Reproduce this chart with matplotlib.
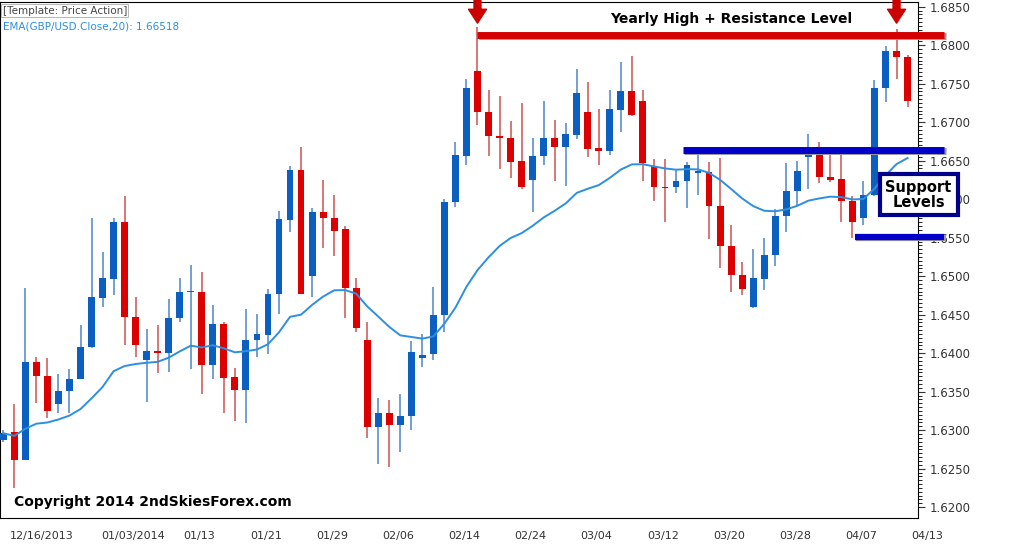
import matplotlib.pyplot as plt
import matplotlib.transforms as mtransforms
import numpy as np

opens = [1.6287, 1.6298, 1.6261, 1.6389, 1.6371, 1.6334, 1.6351, 1.6367, 1.6408, 1.6472,
         1.6496, 1.6571, 1.6447, 1.6391, 1.6403, 1.6400, 1.6446, 1.6479, 1.6480, 1.6385,
         1.6438, 1.6369, 1.6352, 1.6417, 1.6424, 1.6477, 1.6573, 1.6638, 1.6500, 1.6583,
         1.6576, 1.6561, 1.6485, 1.6417, 1.6304, 1.6322, 1.6307, 1.6318, 1.6394, 1.6399,
         1.6449, 1.6596, 1.6656, 1.6767, 1.6713, 1.6682, 1.6679, 1.6650, 1.6625, 1.6656,
         1.6679, 1.6668, 1.6683, 1.6713, 1.6666, 1.6663, 1.6716, 1.6741, 1.6728, 1.6643,
         1.6616, 1.6616, 1.6623, 1.6634, 1.6635, 1.6591, 1.6539, 1.6501, 1.6460, 1.6496,
         1.6527, 1.6578, 1.6610, 1.6655, 1.6661, 1.6629, 1.6626, 1.6597, 1.6575, 1.6605,
         1.6744, 1.6793, 1.6785]
closes = [1.6296, 1.6261, 1.6389, 1.6371, 1.6325, 1.6351, 1.6367, 1.6408, 1.6473, 1.6497,
          1.6571, 1.6447, 1.6411, 1.6403, 1.6400, 1.6446, 1.6479, 1.6481, 1.6385, 1.6438,
          1.6368, 1.6352, 1.6417, 1.6425, 1.6477, 1.6574, 1.6638, 1.6477, 1.6583, 1.6576,
          1.6559, 1.6485, 1.6433, 1.6304, 1.6322, 1.6307, 1.6318, 1.6402, 1.6398, 1.6449,
          1.6596, 1.6657, 1.6744, 1.6713, 1.6682, 1.6679, 1.6648, 1.6616, 1.6656, 1.6679,
          1.6668, 1.6685, 1.6738, 1.6665, 1.6663, 1.6717, 1.6741, 1.6709, 1.6647, 1.6616,
          1.6615, 1.6623, 1.6645, 1.6636, 1.6591, 1.6539, 1.6501, 1.6484, 1.6497, 1.6527,
          1.6578, 1.6610, 1.6636, 1.6661, 1.6629, 1.6625, 1.6597, 1.6571, 1.6605, 1.6744,
          1.6793, 1.6785, 1.6728]
highs = [1.6300, 1.6334, 1.6485, 1.6395, 1.6394, 1.6373, 1.6380, 1.6437, 1.6576, 1.6532,
         1.6576, 1.6604, 1.6473, 1.6432, 1.6437, 1.6471, 1.6497, 1.6515, 1.6506, 1.6463,
         1.6441, 1.6381, 1.6458, 1.6451, 1.6484, 1.6585, 1.6643, 1.6668, 1.6588, 1.6625,
         1.6606, 1.6565, 1.6498, 1.6440, 1.6342, 1.6339, 1.6347, 1.6416, 1.6425, 1.6486,
         1.6600, 1.6674, 1.6756, 1.6823, 1.6742, 1.6734, 1.6701, 1.6725, 1.6679, 1.6728,
         1.6703, 1.6699, 1.6769, 1.6752, 1.6717, 1.6742, 1.6778, 1.6786, 1.6742, 1.6652,
         1.6652, 1.6639, 1.6648, 1.6660, 1.6648, 1.6654, 1.6566, 1.6519, 1.6535, 1.6549,
         1.6587, 1.6647, 1.6650, 1.6685, 1.6674, 1.6661, 1.6661, 1.6604, 1.6623, 1.6755,
         1.6799, 1.6821, 1.6787]
lows = [1.6285, 1.6225, 1.6261, 1.6335, 1.6316, 1.6322, 1.6322, 1.6367, 1.6407, 1.6460,
        1.6475, 1.6411, 1.6395, 1.6337, 1.6374, 1.6376, 1.6441, 1.6380, 1.6347, 1.6367,
        1.6322, 1.6312, 1.6309, 1.6395, 1.6399, 1.6451, 1.6558, 1.6477, 1.6473, 1.6537,
        1.6526, 1.6446, 1.6428, 1.6290, 1.6256, 1.6252, 1.6272, 1.6300, 1.6382, 1.6391,
        1.6427, 1.6590, 1.6645, 1.6696, 1.6656, 1.6639, 1.6627, 1.6613, 1.6584, 1.6645,
        1.6623, 1.6617, 1.6678, 1.6655, 1.6645, 1.6658, 1.6687, 1.6708, 1.6623, 1.6597,
        1.6570, 1.6608, 1.6589, 1.6605, 1.6548, 1.6510, 1.6480, 1.6476, 1.6459, 1.6482,
        1.6513, 1.6557, 1.6591, 1.6613, 1.6621, 1.6622, 1.6571, 1.6550, 1.6567, 1.6604,
        1.6726, 1.6756, 1.6720]

date_labels = ['12/16/2013', '01/03/2014', '01/13', '01/21', '01/29', '02/06', '02/14',
               '02/24', '03/04', '03/12', '03/20', '03/28', '04/07', '04/13']
date_pos = [3.5, 11.8, 17.8, 23.8, 29.8, 35.8, 41.8, 47.8, 53.8, 59.8, 65.8, 71.8, 77.8, 83.8]

resistance = 1.6813
support_hi = 1.6664
support_lo = 1.6551
last_price = 1.67263

# EMA 20 of closes
ema = [closes[0]]
k = 2 / 21
for c in closes[1:]:
    ema.append(ema[-1] + k * (c - ema[-1]))

fig = plt.figure(figsize=(10.24, 5.59), dpi=100)
ax = fig.add_axes([0.0, 0.073, 0.896, 0.924])
up_col, dn_col = '#0a5fc0', '#dd0000'
for i in range(len(opens)):
    o, c, h, l = opens[i], closes[i], highs[i], lows[i]
    col = up_col if c >= o else dn_col
    wcol = '#5a8fcc' if c >= o else '#d26060'
    ax.vlines(i, l, h, color=wcol, lw=1.2, zorder=2)
    ax.bar(i, max(abs(c - o), 0.00005), bottom=min(o, c), width=0.62, color=col, zorder=3)
ax.plot(range(len(ema)), ema, color='#2d8fe0', lw=1.4, zorder=4)

ax.set_xlim(-0.3, 82.9)
ax.set_ylim(1.61857, 1.68565)
ax.yaxis.tick_right()
ax.set_yticks(np.arange(1.6200, 1.6851, 0.0050))
ax.set_yticks(np.arange(1.6200, 1.6851, 0.0005), minor=True)
ax.yaxis.set_major_formatter(plt.FormatStrFormatter('%.4f'))
ax.tick_params(axis='y', labelsize=8.5, length=5, colors='#333333')
ax.tick_params(axis='y', which='minor', length=3)
ax.set_xticks([])

trans = mtransforms.blended_transform_factory(ax.transData, ax.transAxes)
for p, lab in zip(date_pos, date_labels):
    ax.text(p, -0.025, lab, transform=trans, ha='center', va='top', fontsize=8,
            color='#333333', clip_on=False)

# drawn levels
def level(y, x0, color, lw):
    ax.plot([x0 + 0.15, 85.3 + 0.15], [y - 0.00012, y - 0.00012], color='#999999', lw=lw,
            solid_capstyle='butt', clip_on=False, zorder=5)
    ax.plot([x0, 85.3], [y, y], color=color, lw=lw, solid_capstyle='butt', clip_on=False, zorder=6)

level(resistance, 43.0, '#d40000', 5)
level(support_hi, 61.6, '#0000c8', 5)
level(support_lo, 77.2, '#0000c8', 4.5)

for xi in (43, 81):
    ax.annotate('', xy=(xi, 1.6825), xytext=(xi, 1.6870),
                arrowprops=dict(arrowstyle='simple,head_width=1.3,head_length=1.0,tail_width=0.5',
                                color='#cc0000'), annotation_clip=False)

ax.text(66, 1.6834, 'Yearly High + Resistance Level', fontsize=10, fontweight='bold',
        ha='center', va='center', zorder=7)
ax.text(83.0, 1.6606, 'Support\nLevels', fontsize=10.5, fontweight='bold', ha='center',
        va='center', linespacing=1.0, zorder=8, clip_on=False,
        bbox=dict(boxstyle='square,pad=0.4', fc='white', ec='#00008b', lw=3))
ax.text(1.0, 1.6207, 'Copyright 2014 2ndSkiesForex.com', fontsize=10, fontweight='bold', va='center')

ax.text(0.003, 0.992, '[Template: Price Action]', transform=ax.transAxes, fontsize=7.5,
        color='#444444', va='top', bbox=dict(fc='white', ec='#aaaaaa', lw=0.6, pad=1))
ax.text(0.003, 0.962, 'EMA(GBP/USD.Close,20): 1.66518', transform=ax.transAxes, fontsize=7.5,
        color='#2d8fe0', va='top')
ax.text(1.017, last_price, '%.5f' % last_price, transform=trans, fontsize=8, color='white',
        va='center', ha='left', clip_on=False,
        bbox=dict(fc='#22e022', ec='#22e022', pad=1.5))

fig.savefig('out.png', dpi=100)
